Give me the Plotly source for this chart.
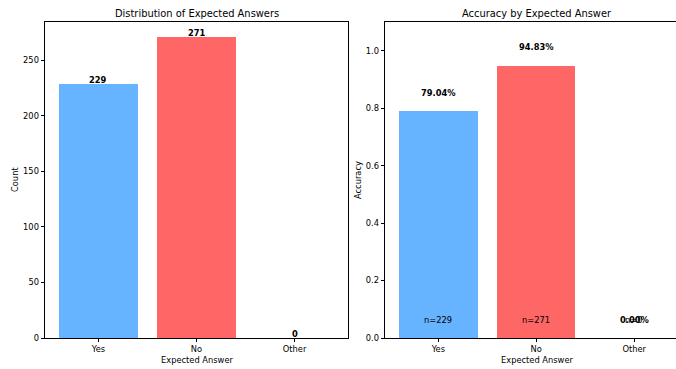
import plotly.graph_objects as go

categories = ["Yes", "No", "Other"]
counts = [229, 271, 0]
accuracy = [0.7904, 0.9483, 0.0]
colors = ["#66b3ff", "#ff6666", "#99ff99"]

W, H = 676, 369
FONT = "DejaVu Sans"
FS = 8.3
TFS = 9.9

def px_x(p):
    return p / W

def px_y(p):
    return 1 - p / H

fig = go.Figure()

fig.add_trace(go.Bar(x=[0, 1, 2], y=counts, marker=dict(color=colors, line=dict(width=0)),
                     width=0.8, xaxis="x", yaxis="y", showlegend=False, hoverinfo="skip"))
fig.add_trace(go.Bar(x=[0, 1, 2], y=accuracy, marker=dict(color=colors, line=dict(width=0)),
                     width=0.8, xaxis="x2", yaxis="y2", showlegend=False, hoverinfo="skip"))

annotations = []
for i, c in enumerate(counts):
    annotations.append(dict(x=i, y=c, xref="x", yref="y", text=f"<b>{c}</b>", showarrow=False,
                            xanchor="center", yanchor="bottom", yshift=-3,
                            font=dict(family=FONT, size=FS, color="black")))
for i, (a, n) in enumerate(zip(accuracy, counts)):
    annotations.append(dict(x=i, y=a + 0.05, xref="x2", yref="y2", text=f"<b>{a*100:.2f}%</b>",
                            showarrow=False, xanchor="center", yanchor="bottom", yshift=-3,
                            font=dict(family=FONT, size=FS, color="black")))
    annotations.append(dict(x=i, y=0.05, xref="x2", yref="y2", text=f"n={n}",
                            showarrow=False, xanchor="center", yanchor="bottom", yshift=-3,
                            font=dict(family=FONT, size=FS, color="black")))

def paper_text(x, y, text, size=FS, angle=0):
    return dict(x=px_x(x), y=px_y(y), xref="paper", yref="paper", text=text, showarrow=False,
                xanchor="center", yanchor="middle", textangle=angle,
                font=dict(family=FONT, size=size, color="black"))

annotations += [
    paper_text(196.5, 14, "Distribution of Expected Answers", TFS),
    paper_text(536.5, 14, "Accuracy by Expected Answer", TFS),
    paper_text(196.5, 359.5, "Expected Answer"),
    paper_text(536.5, 359.5, "Expected Answer"),
    paper_text(15, 180, "Count", angle=-90),
    paper_text(358, 180, "Accuracy", angle=-90),
]

axis_common = dict(showgrid=False, zeroline=False, ticks="outside", ticklen=3.5, tickwidth=0.8,
                   tickcolor="black", linecolor="black", linewidth=0.8, showline=True,
                   automargin=False, tickfont=dict(family=FONT, size=FS, color="black"))

fig.update_layout(
    width=W, height=H, autosize=False,
    margin=dict(l=0, r=0, t=0, b=0, pad=0),
    plot_bgcolor="white", paper_bgcolor="white",
    bargap=0,
    annotations=annotations,
    xaxis=dict(domain=[px_x(45), px_x(348)], range=[-0.545, 2.545], tickvals=[0, 1, 2],
               ticktext=categories, mirror=True, anchor="y", **axis_common),
    yaxis=dict(domain=[px_y(338), px_y(22)], range=[0, 284.55], tickvals=[0, 50, 100, 150, 200, 250],
               mirror=True, anchor="x", **axis_common),
    xaxis2=dict(domain=[px_x(385), 1.0], range=[-0.545, -0.545 + 291 / 97.9], tickvals=[0, 1, 2],
                ticktext=categories, mirror=True, anchor="y2", **axis_common),
    yaxis2=dict(domain=[px_y(338), px_y(22)], range=[0, 1.1], tickvals=[0, 0.2, 0.4, 0.6, 0.8, 1.0],
                tickformat=".1f", mirror=False, anchor="x2", **axis_common),
)

fig.write_html("out.html", config={"responsive": False, "displayModeBar": False},
               post_script="document.body.style.margin='0';document.body.style.overflow='hidden';")
